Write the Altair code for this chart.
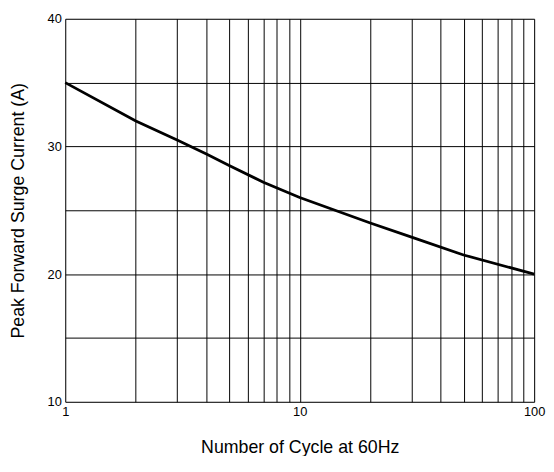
import altair as alt
import pandas as pd

cycles = [1, 2, 3, 4, 5, 7, 10, 20, 30, 50, 100]
current = [35, 32, 30.5, 29.4, 28.5, 27.2, 26, 24, 22.9, 21.5, 20]
x_grid = [1, 2, 3, 4, 5, 6, 7, 8, 9, 10, 20, 30, 40, 50, 60, 70, 80, 90, 100]
x_labels = [1, 10, 100]
y_grid = [10, 15, 20, 25, 30, 35, 40]
y_labels = [10, 20, 30, 40]

df = pd.DataFrame({"cycles": cycles, "current": current})

font = "Liberation Sans"

chart = alt.Chart(df).mark_line(color="black", strokeWidth=2.8).encode(
    x=alt.X(
        "cycles:Q",
        scale=alt.Scale(type="log", domain=[1, 100], nice=False),
        axis=alt.Axis(
            title="Number of Cycle at 60Hz",
            values=x_grid,
            format="d",
            labelExpr="indexof([1, 10, 100], datum.value) >= 0 ? datum.label : ''",
            labelOverlap=False,
            labelFlush=False,
            ticks=False,
            domain=False,
            grid=True,
            gridColor="black",
            gridOpacity=1,
            gridWidth=1,
            labelPadding=4,
            labelFontSize=13,
            labelFont=font,
            labelColor="black",
            titleFont=font,
            titleFontSize=18,
            titleFontWeight="normal",
            titleColor="black",
            titlePadding=20,
        ),
    ),
    y=alt.Y(
        "current:Q",
        scale=alt.Scale(domain=[10, 40], nice=False),
        axis=alt.Axis(
            title="Peak Forward Surge Current (A)",
            values=y_grid,
            labelExpr="datum.value % 10 == 0 ? datum.label : ''",
            labelOverlap=False,
            labelFlush=False,
            ticks=False,
            domain=False,
            grid=True,
            gridColor="black",
            gridOpacity=1,
            gridWidth=1,
            labelPadding=4,
            labelFontSize=13,
            labelFont=font,
            labelColor="black",
            titleFont=font,
            titleFontSize=18,
            titleFontWeight="normal",
            titleColor="black",
            titlePadding=20,
        ),
    ),
).properties(
    width=475,
    height=388,
    padding={"left": 58, "top": 8, "right": 12, "bottom": 52},
    autosize=alt.AutoSizeParams(type="none"),
).configure_view(
    stroke="black",
    strokeWidth=1.5,
).configure(background="white")

chart.save("out.html", embed_options={"renderer": "svg", "actions": False})
